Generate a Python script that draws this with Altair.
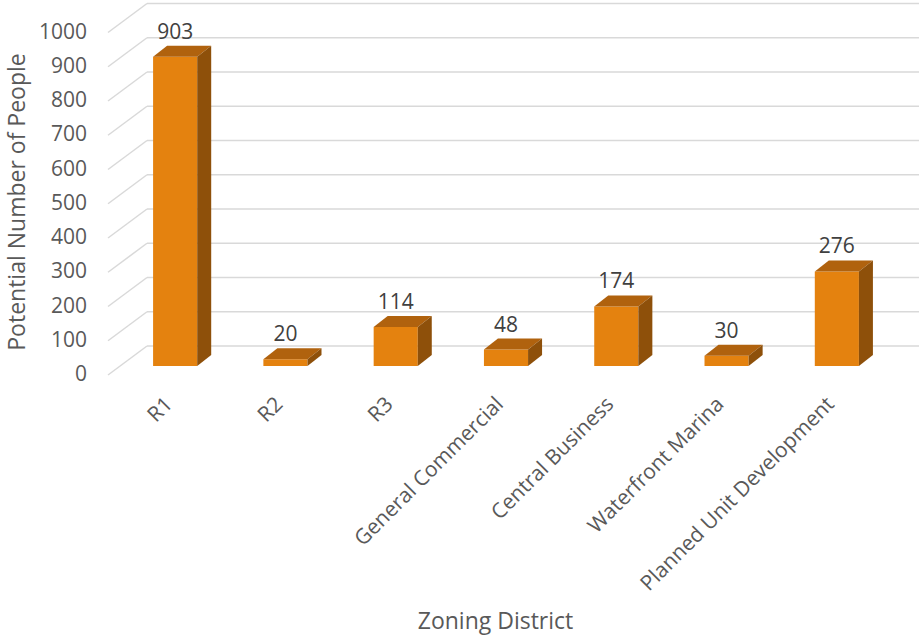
import altair as alt
import pandas as pd

categories = ["R1", "R2", "R3", "General Commercial", "Central Business",
              "Waterfront Marina", "Planned Unit Development"]
values = [903, 20, 114, 48, 174, 30, 276]
y_ticks = list(range(0, 1001, 100))

FRONT = "#E4820F"
TOP = "#B0620E"
SIDE = "#8E500A"
GRID = "#D9D9D9"
TXT = "#595959"
FONT = "Open Sans"

HALF = 0.2      # half bar width (x units)
DX = 0.127      # bar depth in x units
DY = 32.0       # bar depth in y units

front_rows, top_rows, side_rows = [], [], []
for i, (c, v) in enumerate(zip(categories, values)):
    L, R = i + 0.5 - HALF, i + 0.5 + HALF
    front_rows.append({"cat": c, "L": L, "R": R, "v": v, "c": i + 0.5})
    top_rows += [{"cat": c, "y": v, "x": L, "x2": R},
                 {"cat": c, "y": v + DY, "x": L + DX, "x2": R + DX}]
    side_rows += [{"cat": c, "x": R, "y": 0, "y2": v},
                  {"cat": c, "x": R + DX, "y": DY, "y2": v + DY}]

front = pd.DataFrame(front_rows)
top = pd.DataFrame(top_rows)
side = pd.DataFrame(side_rows)
grid = pd.DataFrame({"g": y_ticks, "x0": 0, "x1": len(categories)})

xs = alt.Scale(domain=[0, len(categories)], nice=False, zero=False)
ys = alt.Scale(domain=[0, 1000], nice=False, zero=True)

label_expr = "[" + ",".join("'%s'" % c for c in categories) + "][floor(datum.value)]"

gback = alt.Chart(grid).mark_rule(color=GRID, strokeWidth=1.5,
                                  xOffset=27, x2Offset=27, yOffset=-20, y2Offset=-20).encode(
    x=alt.X("x0:Q", scale=xs,
            axis=alt.Axis(values=[i + 0.5 for i in range(len(categories))],
                          labelExpr=label_expr, labelAngle=-45, labelAlign="right",
                          labelBaseline="top", labelPadding=27, labelOffset=-14,
                          ticks=False, tickSize=0, labelLimit=0,
                          domain=False, grid=False, labelFont=FONT, labelFontSize=21,
                          labelColor=TXT, title="Zoning District", titleFont=FONT,
                          titleFontSize=23, titleFontWeight="normal", titleColor=TXT,
                          titleX=375, titleY=262, titleAlign="center",
                          titleBaseline="alphabetic", labelOverlap=False)),
    x2="x1:Q",
    y=alt.Y("g:Q", scale=ys,
            axis=alt.Axis(values=y_ticks, labels=False, ticks=False, tickSize=0,
                          domain=False, grid=False,
                          title="Potential Number of People",
                          titleFont=FONT, titleFontSize=23, titleFontWeight="normal",
                          titleColor=TXT, titleX=-103, titleY=178, titleAngle=-90,
                          titleAlign="center", titleBaseline="middle")),
)

gdiag = alt.Chart(grid).mark_rule(color=GRID, strokeWidth=1.5,
                                  xOffset=-12, yOffset=9, x2Offset=27, y2Offset=-20).encode(
    x=alt.X("x0:Q", scale=xs), x2="x0:Q",
    y=alt.Y("g:Q", scale=ys), y2="g:Q",
)

ylabels = alt.Chart(grid).mark_text(font=FONT, fontSize=21, color=TXT, align="right",
                                    baseline="middle", dx=-33, dy=9).encode(
    x=alt.X("x0:Q", scale=xs), y=alt.Y("g:Q", scale=ys), text=alt.Text("g:Q", format="d"),
)

front_m = alt.Chart(front).mark_rect(color=FRONT).encode(
    x=alt.X("L:Q", scale=xs), x2="R:Q",
    y=alt.Y("v:Q", scale=ys), y2=alt.datum(0),
)

top_m = alt.Chart(top).mark_area(color=TOP, orient="horizontal").encode(
    y=alt.Y("y:Q", scale=ys), x=alt.X("x:Q", scale=xs), x2="x2:Q", detail="cat:N",
)

side_m = alt.Chart(side).mark_area(color=SIDE).encode(
    x=alt.X("x:Q", scale=xs), y=alt.Y("y:Q", scale=ys), y2="y2:Q", detail="cat:N",
)

labels = alt.Chart(front).mark_text(font=FONT, fontSize=21, color="#404040",
                                    baseline="alphabetic", dy=-18).encode(
    x=alt.X("c:Q", scale=xs), y=alt.Y("v:Q", scale=ys), text="v:Q",
)

chart = alt.layer(gback, gdiag, ylabels, front_m, top_m, side_m, labels).properties(
    width=772, height=342.5,
    padding={"left": 120, "top": 23.5, "right": 30, "bottom": 269},
    autosize=alt.AutoSizeParams(type="none"),
    background="white",
).configure_view(stroke=None).configure_axis(grid=False)

chart.save("out.html", embed_options={"renderer": "svg", "actions": False})
